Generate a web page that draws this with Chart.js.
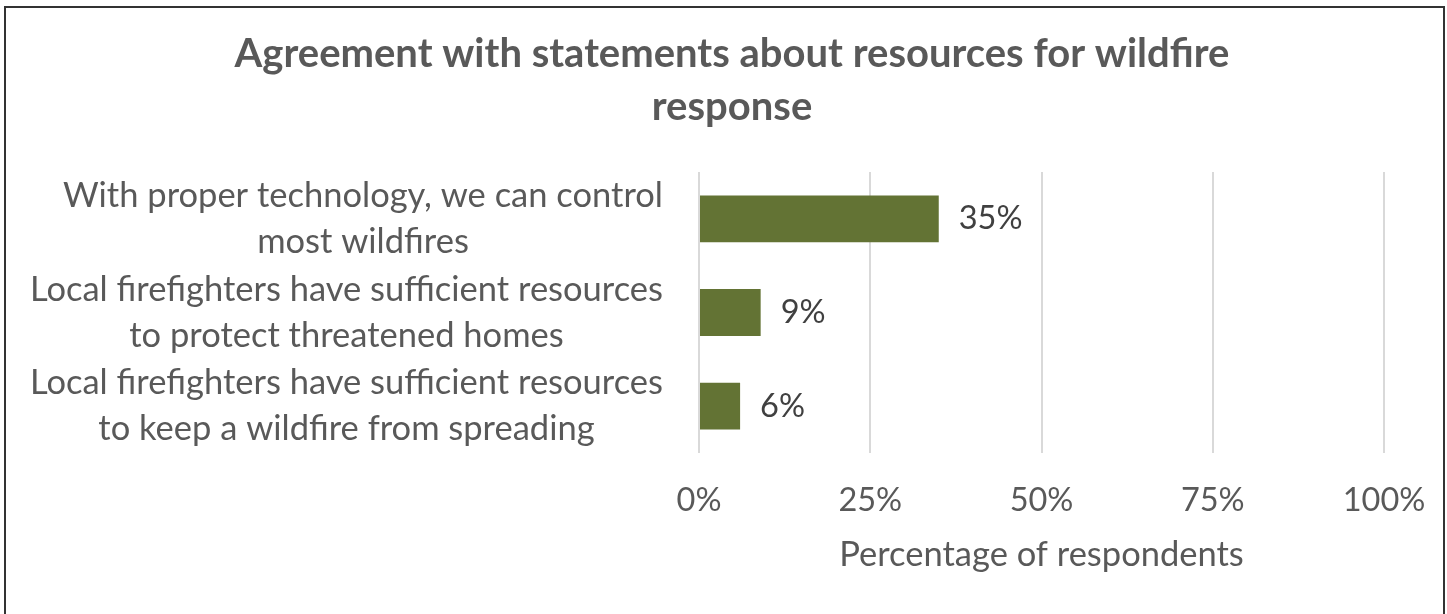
<!DOCTYPE html>
<html>
<head>
<meta charset="utf-8">
<script src="https://cdn.jsdelivr.net/npm/chart.js@4.4.1/dist/chart.umd.min.js"></script>
<style>
  html, body { margin: 0; padding: 0; background: #fff; overflow: hidden; }
  #frame {
    position: absolute; left: 4px; top: 6px;
    width: 1437px; height: 700px;
    border: 2px solid #333; border-bottom: none;
  }
  #myChart { position: absolute; left: 0; top: 0; width: 1447px; height: 614px; }
</style>
</head>
<body>
<div id="frame"></div>
<canvas id="myChart" width="1447" height="614"></canvas>
<script>
// statements, one entry per bar (already split into lines)
const categories = [
  ['With proper technology, we can control', 'most wildfires'],
  ['Local firefighters have sufficient resources', 'to protect threatened homes'],
  ['Local firefighters have sufficient resources', 'to keep a wildfire from spreading']
]

// share of respondents who agree, in percent
const agreement = [35, 9, 6]

// x axis ticks
const xTicks = [0, 25, 50, 75, 100]

const grey = '#595959'
const font = 'Lato'

// category labels: each block right-aligned, lines centred inside the block
const categoryLabels = {
  id: 'categoryLabels',
  afterDraw (chart) {
    const { ctx, chartArea } = chart
    const y = chart.scales.y
    ctx.save()
    ctx.font = `34.5px ${font}`
    ctx.fillStyle = grey
    ctx.textAlign = 'center'
    ctx.textBaseline = 'middle'
    categories.forEach((lines, i) => {
      const yc = y.getPixelForTick(i)
      const blockW = Math.max(...lines.map(l => ctx.measureText(l).width))
      const xc = chartArea.left - 36 - blockW / 2
      lines.forEach((line, j) => {
        ctx.fillText(line, xc, yc + (j - (lines.length - 1) / 2) * 46)
      })
    })
    ctx.restore()
  }
}

// value labels to the right of each bar
const valueLabels = {
  id: 'valueLabels',
  afterDatasetsDraw (chart) {
    const { ctx } = chart
    const meta = chart.getDatasetMeta(0)
    ctx.save()
    ctx.font = `32.5px ${font}`
    ctx.fillStyle = '#404040'
    ctx.textAlign = 'left'
    ctx.textBaseline = 'middle'
    meta.data.forEach((bar, i) => {
      ctx.fillText(agreement[i] + '%', bar.x + 20, bar.y)
    })
    ctx.restore()
  }
}

const charts = () => {
  const ctx = document.getElementById('myChart')

  new Chart(ctx, {
    type: 'bar',
    data: {
      labels: categories.map(c => c.join(' ')),
      datasets: [{
        data: agreement,
        backgroundColor: '#637334',
        barPercentage: 0.5,
        categoryPercentage: 1
      }]
    },
    options: {
      indexAxis: 'y',
      responsive: false,
      animation: false,
      layout: { padding: { top: 28, left: 80, right: 63, bottom: 38 } },
      plugins: {
        legend: { display: false },
        tooltip: { enabled: false },
        title: {
          display: true,
          text: ['Agreement with statements about resources for wildfire', 'response'],
          color: grey,
          font: { family: font, size: 40, weight: 'bold', lineHeight: 53 / 40 },
          padding: { top: 0, bottom: 38 }
        }
      },
      scales: {
        x: {
          min: xTicks[0],
          max: xTicks[xTicks.length - 1],
          afterBuildTicks: scale => {
            scale.ticks = xTicks.map(v => ({ value: v }))
          },
          afterFit: scale => {
            // tick labels sit 28px below the plot, title under them
            scale.height = 123
            scale.paddingRight = 0
          },
          ticks: {
            callback: v => v + '%',
            color: grey,
            font: { family: font, size: 32.5 },
            padding: 28,
            maxRotation: 0
          },
          grid: { color: '#d9d9d9', lineWidth: 2, drawTicks: false },
          border: { display: false },
          title: {
            display: true,
            text: 'Percentage of respondents',
            color: grey,
            font: { family: font, size: 34.5 },
            padding: { top: 0, bottom: 0 }
          }
        },
        y: {
          ticks: { display: false },
          grid: { display: false },
          border: { display: false },
          afterFit: scale => { scale.width = 619 }
        }
      }
    },
    plugins: [categoryLabels, valueLabels]
  })
}

document.fonts.load(`32px ${font}`).then(charts, charts)
</script>
</body>
</html>
